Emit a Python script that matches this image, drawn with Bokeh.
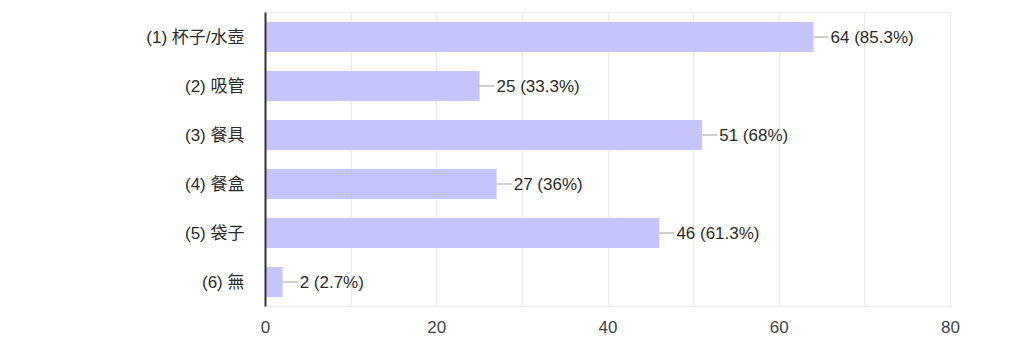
from bokeh.plotting import figure
from bokeh.models import ColumnDataSource, FixedTicker, FactorRange, Range1d
from bokeh.core.properties import value
from bokeh.embed import file_html
from bokeh.resources import INLINE

categories = ["(1) 杯子/水壺", "(2) 吸管", "(3) 餐具", "(4) 餐盒", "(5) 袋子", "(6) 無"]
counts = [64, 25, 51, 27, 46, 2]
percents = ["85.3%", "33.3%", "68%", "36%", "61.3%", "2.7%"]
x_ticks = [0, 20, 40, 60, 80]
grid_ticks = [0, 10, 20, 30, 40, 50, 60, 70, 80]

FONT = "'Liberation Sans', Arial, 'Noto Sans CJK TC', sans-serif"
X_MAX = 80
PLOT_W = 685  # inner plot width in px
px = X_MAX / PLOT_W

labels = [f"{c} ({p})" for c, p in zip(counts, percents)]
src = ColumnDataSource(dict(
    cat=categories, v=counts, lab=labels,
    lend=[c + 15 * px for c in counts],
))

p = figure(width=1008, height=344, output_backend="svg", toolbar_location=None,
           y_range=FactorRange(*reversed(categories)), x_range=Range1d(0, X_MAX),
           min_border_left=265, min_border_right=58, min_border_top=12, min_border_bottom=38)
p.outline_line_color = "#ebebeb"
p.background_fill_color = "white"

p.hbar(y="cat", right="v", left=0, height=0.61, source=src,
       fill_color="#c5c5fc", line_color=None)
p.segment(x0="v", x1="lend", y0="cat", y1="cat", source=src,
          line_color="#9e9e9e", line_width=1.2)
p.text(x="v", y="cat", text="lab", source=src, x_offset=17,
       text_font=value(FONT), text_font_size="17px", text_color="#2b2b2b",
       text_baseline="middle", text_align="left")

p.xaxis.ticker = FixedTicker(ticks=x_ticks)
p.xgrid.ticker = FixedTicker(ticks=grid_ticks)
p.xgrid.grid_line_color = "#ebebeb"
p.ygrid.grid_line_color = None
p.xaxis.axis_line_color = None
p.xaxis.major_tick_line_color = None
p.xaxis.minor_tick_line_color = None
p.xaxis.major_label_text_font = FONT
p.xaxis.major_label_text_font_size = "17px"
p.xaxis.major_label_text_color = "#444444"
p.xaxis.major_label_standoff = 8

p.yaxis.axis_line_color = "#333333"
p.yaxis.axis_line_width = 2
p.yaxis.major_tick_line_color = None
p.yaxis.major_label_text_font = FONT
p.yaxis.major_label_text_font_size = "17px"
p.yaxis.major_label_text_color = "#2b2b2b"
p.yaxis.major_label_standoff = 15

open("out.html", "w").write(file_html(p, INLINE))
